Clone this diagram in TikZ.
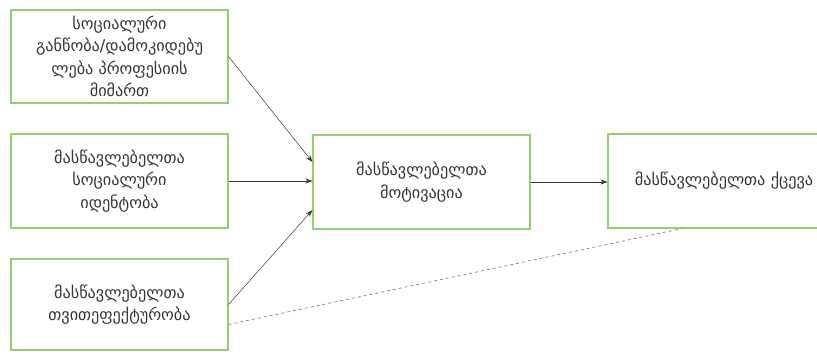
\documentclass[tikz,border=0pt]{standalone}
\usepackage{fontspec}
\setmainfont{DejaVu Sans}
\usetikzlibrary{arrows.meta}
\definecolor{boxgreen}{RGB}{150,204,118}
\definecolor{inkgray}{RGB}{55,55,55}

\begin{document}
\begin{tikzpicture}[x=1pt,y=-1pt,
    box/.style={draw=boxgreen,line width=1.1pt,fill=white,align=center,
      inner sep=0pt,text=inkgray,font=\fontsize{16.2}{22.5}\selectfont},
    link/.style={draw=inkgray,line width=0.5pt,-{Stealth[length=7pt,width=5pt]}},
    hint/.style={draw=gray,line width=0.7pt,dashed}]
    \clip (0,0) rectangle (817,356);
    \fill[white] (0,0) rectangle (817,356);
    % three factors on the left
    \node[box,minimum width=217pt,minimum height=93pt] (soc) at (119.5,56.5)
        {სოციალური\\განწობა/დამოკიდებუ\\ლება პროფესიის\\მიმართ};
    \node[box,minimum width=217pt,minimum height=94pt] (ident) at (119.5,181)
        {მასწავლებელთა\\სოციალური\\იდენტობა};
    \node[box,minimum width=217pt,minimum height=91pt] (eff) at (119.5,304.5)
        {მასწავლებელთა\\თვითეფექტურობა};
    % motivation and behaviour
    \node[box,minimum width=217pt,minimum height=94pt] (motiv) at (421.5,182)
        {მასწავლებელთა\\მოტივაცია};
    \node[box,minimum width=232pt,minimum height=94pt,text width=232pt] (behav) at (724,181)
        {მასწავლებელთა ქცევა};
    \draw[link] (soc.east) -- ([yshift=20pt]motiv.west);
    \draw[link] (ident.east) -- (ident.east -| motiv.west);
    \draw[link] (eff.east) -- ([yshift=-28pt]motiv.west);
    \draw[link] (motiv.east) -- (motiv.east -| behav.west);
    \draw[hint] ([yshift=-20pt]eff.east) -- ([xshift=-42pt]behav.south);
\end{tikzpicture}
\end{document}
